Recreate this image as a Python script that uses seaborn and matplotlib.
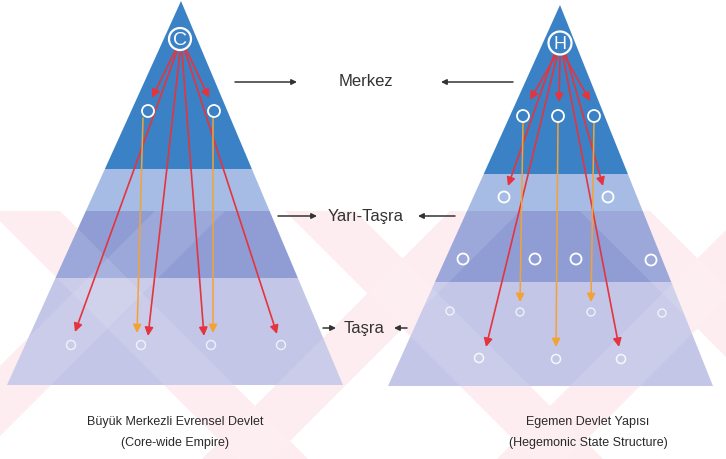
import numpy as np
import matplotlib
matplotlib.use('Agg')
import matplotlib.pyplot as plt
import seaborn as sns

sns.set_style('white')
plt.rcParams['font.family'] = ['Liberation Sans', 'DejaVu Sans']

# pyramid geometry (pixel coords, y down)
left_apex = (181, 2)
left_base = (7, 343, 386)
left_bands = [170, 212, 279]
right_apex = (560, 6)
right_base = (388, 713, 387)
right_bands = [175, 212, 283]
band_colors = ['#3a82c5', '#a6bce4', '#909dd5', '#c3c6e7']

# nodes
hub_left = (180, 40)
hub_right = (560, 44)
left_lvl1_x = [148, 214]
left_lvl1_y = [112, 112]
left_bot_x = [71, 141, 211, 281]
left_bot_y = [346, 346, 346, 346]
right_lvl1_x = [523, 558, 594]
right_lvl1_y = [117, 117, 117]
right_lvl2_x = [504, 608]
right_lvl2_y = [198, 198]
right_lvl2b_x = [463, 535, 576, 651]
right_lvl2b_y = [260, 260, 260, 261]
right_lvl3_x = [450, 520, 591, 662]
right_lvl3_y = [312, 313, 313, 314]
right_lvl4_x = [479, 556, 621]
right_lvl4_y = [359, 360, 360]

# arrows (start, end)
red_arrows = [
    ((176, 50), (152, 99)), ((186, 50), (209, 99)),
    ((177, 52), (75, 333)), ((180, 53), (148, 337)),
    ((182, 53), (204, 337)), ((185, 52), (277, 335)),
    ((556, 56), (530, 101)), ((560, 57), (559, 103)), ((564, 56), (590, 102)),
    ((554, 56), (508, 187)), ((566, 56), (603, 187)),
    ((557, 57), (486, 348)), ((563, 57), (619, 348)),
]
orange_arrows = [
    ((143, 119), (137, 334)), ((213, 119), (213, 334)),
    ((523, 123), (520, 303)), ((558, 123), (556, 348)), ((594, 123), (591, 303)),
]

labels = ['Merkez', 'Yarı-Taşra', 'Taşra']
label_x = [366, 366, 364]
label_y = [82, 217, 329]
label_arrows = [
    ((235, 83), (297, 83)), ((513, 83), (441, 83)),
    ((278, 217), (317, 217)), ((455, 217), (418, 217)),
    ((323, 329), (336, 329)), ((407, 329), (394, 329)),
]
captions = [['Büyük Merkezli Evrensel Devlet', '(Core-wide Empire)'],
            ['Egemen Devlet Yapısı', '(Hegemonic State Structure)']]
caption_x = [175, 588]
caption_y = [422, 443]

fig = plt.figure(figsize=(7.26, 4.6), dpi=100)
ax = fig.add_axes([0, 0, 1, 1])
ax.set_xlim(0, 726)
ax.set_ylim(460, 0)
ax.axis('off')

# watermark stripes (faint pink X pattern on the lower part)
wm_y0, wm_y1 = 212, 460
wm_w = 70
h = wm_y1 - wm_y0
stripes = []
for x0 in [-10, 285, 580]:
    stripes.append([(x0, wm_y0), (x0 + wm_w, wm_y0), (x0 + wm_w + h, wm_y1), (x0 + h, wm_y1)])
for x0 in [155, 450, 745]:
    stripes.append([(x0, wm_y0), (x0 + wm_w, wm_y0), (x0 + wm_w - h, wm_y1), (x0 - h, wm_y1)])
for s in stripes:
    xs, ys = zip(*s)
    ax.fill(xs, ys, color='#fdeaee', lw=0, zorder=0)


def edge_x(apex, base, y):
    t = (y - apex[1]) / (base[2] - apex[1])
    return apex[0] + t * (base[0] - apex[0]), apex[0] + t * (base[1] - apex[0])


def draw_pyramid(apex, base, bands):
    ys = [apex[1]] + bands + [base[2]]
    for i in range(len(ys) - 1):
        ya, yb = ys[i], ys[i + 1]
        la, ra = edge_x(apex, base, ya)
        lb, rb = edge_x(apex, base, yb)
        ax.fill([la, ra, rb, lb], [ya, ya, yb, yb], color=band_colors[i], lw=0, zorder=1)


draw_pyramid(left_apex, left_base, left_bands)
draw_pyramid(right_apex, right_base, right_bands)

# faint watermark over pyramids
for s in stripes:
    xs, ys = zip(*s)
    ax.fill(xs, ys, color='white', alpha=0.12, lw=0, zorder=2)


def px_size(d):
    return (d * 0.72) ** 2


def nodes(xs, ys, d, alpha=1.0, lw=1.3):
    sns.scatterplot(x=xs, y=ys, s=px_size(d), marker='o', facecolor='none',
                    edgecolor='white', linewidth=lw, alpha=alpha, ax=ax, zorder=5, legend=False)


nodes([hub_left[0]], [hub_left[1]], 22, lw=1.6)
nodes([hub_right[0]], [hub_right[1]], 23, lw=1.6)
ax.text(hub_left[0], hub_left[1] + 0.5, 'C', color='white', fontsize=14, ha='center', va='center', zorder=6)
ax.text(hub_right[0], hub_right[1] + 0.5, 'H', color='white', fontsize=13, ha='center', va='center', zorder=6)
nodes(left_lvl1_x, left_lvl1_y, 12)
nodes(left_bot_x, left_bot_y, 9, alpha=0.75, lw=1.0)
nodes(right_lvl1_x, right_lvl1_y, 12)
nodes(right_lvl2_x, right_lvl2_y, 11)
nodes(right_lvl2b_x, right_lvl2b_y, 11)
nodes(right_lvl3_x, right_lvl3_y, 8, alpha=0.75, lw=1.0)
nodes(right_lvl4_x, right_lvl4_y, 9, alpha=0.85, lw=1.1)

for (x0, y0), (x1, y1) in red_arrows:
    ax.annotate('', xy=(x1, y1), xytext=(x0, y0),
                arrowprops=dict(arrowstyle='-|>,head_length=0.5,head_width=0.25', color='#e5343d', lw=1.2,
                                mutation_scale=10, shrinkA=0, shrinkB=0), zorder=4)
for (x0, y0), (x1, y1) in orange_arrows:
    ax.annotate('', xy=(x1, y1), xytext=(x0, y0),
                arrowprops=dict(arrowstyle='-|>,head_length=0.5,head_width=0.25', color='#f5a234', lw=1.1,
                                mutation_scale=10, shrinkA=0, shrinkB=0), zorder=4)

for t, x, y in zip(labels, label_x, label_y):
    ax.text(x, y, t, fontsize=12, color='#333333', ha='center', va='center')
for (x0, y0), (x1, y1) in label_arrows:
    ax.annotate('', xy=(x1, y1), xytext=(x0, y0),
                arrowprops=dict(arrowstyle='-|>', color='#333333', lw=1.1,
                                mutation_scale=8, shrinkA=0, shrinkB=0))

for lines, x in zip(captions, caption_x):
    for t, y in zip(lines, caption_y):
        ax.text(x, y, t, fontsize=9, color='#2a2a2a', ha='center', va='center')

fig.savefig('out.png', dpi=100)
